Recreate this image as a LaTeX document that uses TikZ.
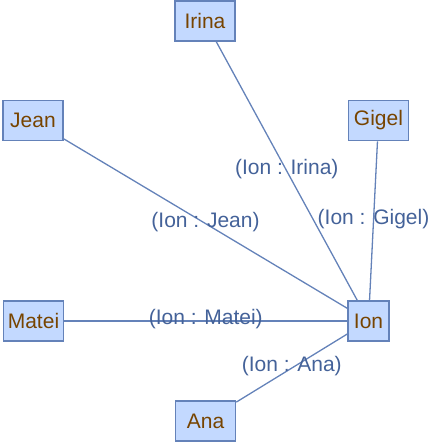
\documentclass[tikz,border=0pt]{standalone}
\usepackage{fontspec}
\setmainfont{Liberation Sans}
\definecolor{boxfill}{HTML}{C3D9FF}
\definecolor{boxline}{HTML}{6482B9}
\definecolor{nametext}{HTML}{774400}
\definecolor{labeltext}{HTML}{446299}
\begin{document}
\begin{tikzpicture}[x=1pt,y=-1pt,
  person/.style={draw=boxline,fill=boxfill,line width=1.6pt,inner sep=0pt,
    minimum width=#1,minimum height=40pt,text=nametext,
    font=\fontsize{21}{24}\selectfont},
  person/.default=60pt,
  link/.style={draw=boxline,line width=1.3pt},
  rel/.style={text=labeltext,font=\fontsize{21}{24}\selectfont,inner sep=0pt,yshift=2pt}]
\useasboundingbox (0,0) rectangle (436,443);
\node[person=60pt] (irina) at (205,21) {Irina};
\node[person=60pt] (gigel) at (378.5,120.5) {Gigel};
\node[person=60pt] (jean) at (33,120.5) {Jean};
\node[person=60pt] (matei) at (33.5,321) {Matei};
\node[person=60pt] (ana) at (205.5,421) {Ana};
\node[person=41pt] (ion) at (368.5,321) {Ion};
\draw[link] (ion) -- node[rel] {(Ion : Irina)} (irina);
\draw[link] (ion) -- node[rel] {(Ion : Gigel)} (gigel);
\draw[link] (ion) -- node[rel] {(Ion : Jean)} (jean);
\draw[link] (ion) -- node[rel] {(Ion : Matei)} (matei);
\draw[link] (ion) -- node[rel] {(Ion : Ana)} (ana);
\end{tikzpicture}
\end{document}
